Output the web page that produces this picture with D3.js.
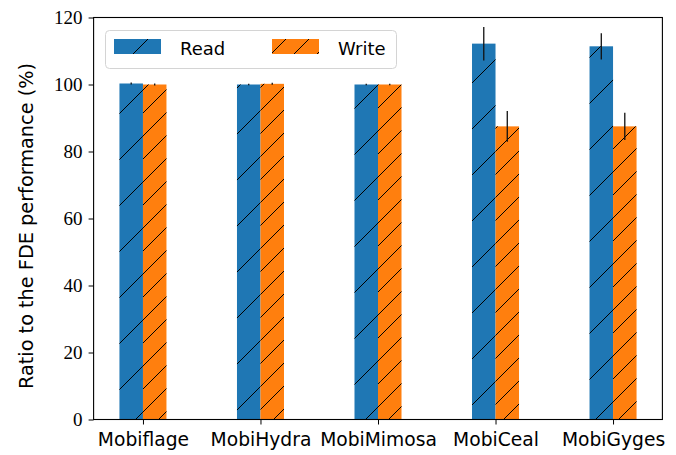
<!DOCTYPE html>
<html>
<head>
<meta charset="utf-8">
<script src="https://cdn.jsdelivr.net/npm/d3@7"></script>
<style>
  html, body { margin: 0; padding: 0; background: #fff; }
  svg { display: block; }
</style>
</head>
<body>
<svg id="chart" width="676" height="455"></svg>
<script>
const categories = ["Mobiflage", "MobiHydra", "MobiMimosa", "MobiCeal", "MobiGyges"];
const readValues = [100.3, 100.0, 100.0, 112.2, 111.4];
const readErrors = [0.3, 0.2, 0.2, 5.0, 3.9];
const writeValues = [100.0, 100.2, 100.0, 87.5, 87.5];
const writeErrors = [0.3, 0.3, 0.2, 4.6, 4.1];
const yTicks = [0, 20, 40, 60, 80, 100, 120];
const seriesNames = ["Read", "Write"];

(function () {
const svg = d3.select("#chart");
const pLeft = 93.6, pRight = 662.4, pTop = 17.5, pBottom = 419.5;
const barW = 0.2;

const x = d3.scaleLinear().domain([-0.42, 4.42]).range([pLeft, pRight]);
const y = d3.scaleLinear().domain([0, 120]).range([pBottom, pTop]);

// hatch patterns, aligned globally (lines where x + y ≡ 3 mod period)
const defs = svg.append("defs");
function makeHatch(id, p) {
  const pat = defs.append("pattern")
    .attr("id", id)
    .attr("patternUnits", "userSpaceOnUse")
    .attr("width", p).attr("height", p)
    .attr("patternTransform", "translate(3,0)");
  const segs = [[-5, p + 5, p + 5, -5], [-5, 5, 5, -5], [p - 5, p + 5, p + 5, p - 5]];
  segs.forEach(s => pat.append("line")
    .attr("x1", s[0]).attr("y1", s[1]).attr("x2", s[2]).attr("y2", s[3])
    .attr("stroke", "#000").attr("stroke-width", 1));
}
makeHatch("hatchRead", 46);
makeHatch("hatchWrite", 23);

const series = [
  { name: seriesNames[0], values: readValues, errors: readErrors, color: "#1f77b4", hatch: "hatchRead", offset: -barW },
  { name: seriesNames[1], values: writeValues, errors: writeErrors, color: "#ff7f0e", hatch: "hatchWrite", offset: 0 }
];

series.forEach(s => {
  const data = categories.map((c, i) => ({ i, v: s.values[i], e: s.errors[i] }));
  const g = svg.append("g");
  g.selectAll("rect.fill").data(data).join("rect")
    .attr("class", "fill")
    .attr("x", d => x(d.i + s.offset))
    .attr("width", d => x(d.i + s.offset + barW) - x(d.i + s.offset))
    .attr("y", d => y(d.v))
    .attr("height", d => y(0) - y(d.v))
    .attr("fill", s.color);
  g.selectAll("rect.hatch").data(data).join("rect")
    .attr("class", "hatch")
    .attr("x", d => x(d.i + s.offset))
    .attr("width", d => x(d.i + s.offset + barW) - x(d.i + s.offset))
    .attr("y", d => y(d.v))
    .attr("height", d => y(0) - y(d.v))
    .attr("fill", `url(#${s.hatch})`);
  g.selectAll("line.err").data(data).join("line")
    .attr("class", "err")
    .attr("x1", d => x(d.i + s.offset + barW / 2))
    .attr("x2", d => x(d.i + s.offset + barW / 2))
    .attr("y1", d => y(d.v - d.e))
    .attr("y2", d => y(d.v + d.e))
    .attr("stroke", "#111").attr("stroke-width", 1.3);
});

// axes
const xAxis = d3.axisBottom(x).tickValues(d3.range(categories.length))
  .tickFormat(i => categories[i]).tickSize(5).tickPadding(8);
const gx = svg.append("g").attr("transform", `translate(0,${pBottom})`).call(xAxis);
gx.select(".domain").remove();
gx.selectAll(".tick line").attr("stroke", "#000").attr("stroke-width", 1);
gx.selectAll(".tick text").attr("fill", "#000")
  .style("font-family", "'DejaVu Sans', sans-serif").style("font-size", "18.7px");

const yAxis = d3.axisLeft(y).tickValues(yTicks).tickSize(5).tickPadding(6);
const gy = svg.append("g").attr("transform", `translate(${pLeft},0)`).call(yAxis);
gy.select(".domain").remove();
gy.selectAll(".tick line").attr("stroke", "#000").attr("stroke-width", 1);
gy.selectAll(".tick text").attr("fill", "#000")
  .style("font-family", "'Liberation Serif', serif").style("font-size", "19px");

// frame
svg.append("rect")
  .attr("x", pLeft).attr("y", pTop)
  .attr("width", pRight - pLeft).attr("height", pBottom - pTop)
  .attr("fill", "none").attr("stroke", "#000").attr("stroke-width", 1.1);

// y label
svg.append("text")
  .attr("transform", `translate(33,226) rotate(-90)`)
  .attr("text-anchor", "middle")
  .style("font-family", "'DejaVu Sans', sans-serif").style("font-size", "19.3px")
  .text("Ratio to the FDE performance (%)");

// legend
const lg = svg.append("g");
lg.append("rect")
  .attr("x", 105.5).attr("y", 30.5).attr("width", 291).attr("height", 38)
  .attr("rx", 4).attr("ry", 4)
  .attr("fill", "#fff").attr("fill-opacity", 0.8)
  .attr("stroke", "#d4d4d4").attr("stroke-width", 1);
const legendX = [114, 272];
series.forEach((s, k) => {
  lg.append("rect").attr("x", legendX[k]).attr("y", 39).attr("width", 47).attr("height", 15).attr("fill", s.color);
  lg.append("rect").attr("x", legendX[k]).attr("y", 39).attr("width", 47).attr("height", 15).attr("fill", `url(#${s.hatch})`);
  lg.append("text")
    .attr("x", legendX[k] + 66).attr("y", 54.5)
    .style("font-family", "'DejaVu Sans', sans-serif").style("font-size", "18px")
    .text(s.name);
});
})();
</script>
</body>
</html>
